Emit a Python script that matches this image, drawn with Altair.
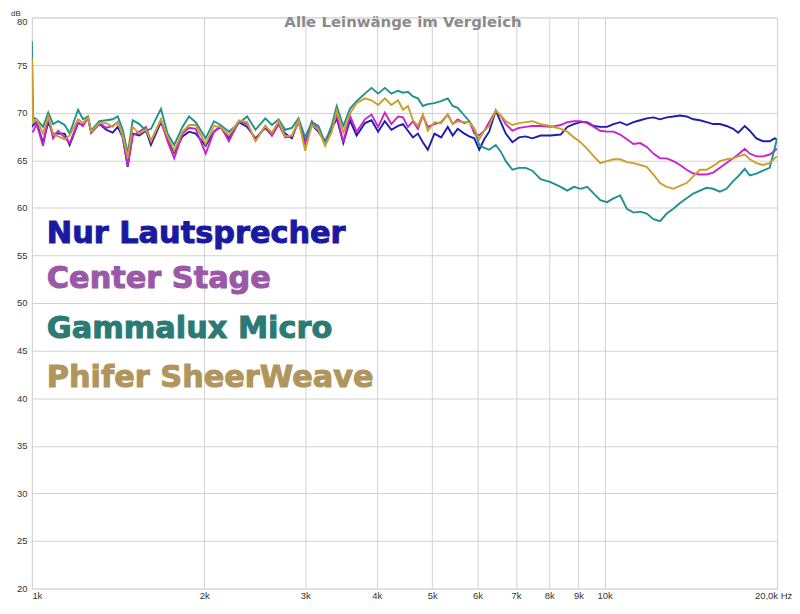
import altair as alt
import pandas as pd

FREQ = [1000, 1005, 1019, 1046, 1068, 1089, 1111, 1141, 1164,
        1204, 1228, 1253, 1269, 1312, 1348, 1384, 1412,
        1441, 1470, 1500, 1540, 1582, 1614, 1680, 1725,
        1772, 1832, 1881, 1932, 2011, 2079, 2135, 2208,
        2298, 2376, 2457, 2556, 2625, 2696, 2769, 2844,
        2921, 3000, 3082, 3165, 3251, 3339, 3406, 3497,
        3592, 3689, 3814, 3917, 4023, 4132, 4243, 4358,
        4445, 4535, 4627, 4720, 4815, 4912,
        5045, 5182, 5322, 5429, 5539, 5689,
        5804, 5921, 6040, 6162, 6286, 6456,
        6587, 6720, 6901, 7088, 7280, 7477,
        7730, 8047, 8378, 8604, 8837, 9076,
        9322, 9574, 9827, 10092, 10365, 10645,
        10933, 11229, 11533, 11845, 12166, 12495,
        12834, 13181, 13538, 13904, 14281, 14667,
        15064, 15472, 15891, 16320, 16762, 17101,
        17564, 17919, 18404, 18902, 19414, 19800,
        20000]

NUR = [68.5, 68.7, 69.0, 66.8, 69.0, 67.8, 67.8, 67.8, 66.6,
       68.9, 68.7, 69.5, 67.9, 68.8, 68.2, 67.9, 68.5,
       67.4, 64.3, 67.8, 67.6, 68.1, 66.6, 69.0, 67.3,
       65.8, 67.5, 68.0, 67.8, 66.5, 68.0, 68.5, 67.3,
       69.0, 68.5, 67.3, 68.4, 67.6, 68.8, 67.8, 67.3,
       69.2, 66.9, 68.7, 68.0, 66.9, 68.3, 69.4, 66.8,
       69.2, 67.6, 68.9, 69.2, 68.0, 69.1, 68.2, 68.6,
       68.8, 68.1, 67.4, 67.8, 66.9, 66.1,
       67.8, 67.4, 68.5, 67.6, 68.3, 67.8,
       67.5, 67.3, 66.1, 67.2, 68.0, 70.2,
       69.0, 67.8, 66.9, 67.4, 67.5, 67.3,
       67.6, 67.6, 67.7, 68.5, 68.8, 69.0,
       69.0, 68.6, 68.5, 68.5, 68.8, 69.0,
       68.7, 69.0, 69.2, 69.4, 69.5, 69.3,
       69.5, 69.6, 69.7, 69.6, 69.3, 69.2,
       69.0, 68.8, 68.8, 68.6, 68.3, 67.9,
       68.6, 68.1, 67.3, 67.0, 67.0, 67.3,
       67.2]

CENTER = [68.0, 68.0, 68.8, 66.5, 69.5, 67.3, 68.1, 67.4, 66.8,
          69.0, 68.6, 69.5, 67.9, 68.9, 68.4, 68.6, 69.0,
          67.4, 64.4, 67.6, 68.0, 68.5, 67.0, 69.2, 67.0,
          65.2, 67.8, 68.4, 68.3, 65.7, 68.0, 68.6, 67.0,
          69.1, 68.8, 67.1, 68.6, 67.6, 68.8, 67.4, 67.5,
          69.0, 66.7, 69.1, 68.2, 67.0, 68.5, 69.7, 66.9,
          69.7, 68.0, 69.3, 69.8, 68.5, 70.0, 68.8, 69.6,
          69.5, 68.5, 69.1, 68.3, 69.7, 68.5,
          68.8, 69.0, 69.8, 68.8, 69.3, 68.9,
          69.1, 67.8, 67.6, 68.1, 69.0, 70.2,
          69.7, 68.8, 68.1, 68.4, 68.5, 68.6,
          68.6, 68.5, 68.7, 69.0, 69.1, 69.1,
          68.9, 68.5, 68.1, 68.0, 68.0, 67.7,
          67.2, 66.7, 66.8, 66.4, 65.7, 65.2,
          65.2, 64.9, 64.5, 64.0, 63.6, 63.5,
          63.5, 63.7, 64.2, 64.7, 65.2, 65.6,
          66.2, 65.7, 65.4, 65.4, 65.6, 66.0,
          66.2]

GAMMA = [77.5, 69.5, 69.3, 68.5, 70.0, 68.8, 69.1, 68.7, 67.8,
         70.3, 69.3, 69.6, 68.1, 69.1, 69.2, 69.3, 69.6,
         68.2, 65.7, 69.2, 68.8, 68.1, 68.3, 70.4, 67.8,
         66.6, 68.5, 69.6, 69.0, 67.3, 69.1, 68.7, 68.0,
         68.9, 69.6, 68.2, 69.4, 68.7, 69.3, 68.2, 68.4,
         69.4, 67.4, 69.0, 68.6, 66.8, 68.7, 70.7, 68.6,
         70.4, 71.2, 72.0, 72.6, 72.0, 72.6, 72.0, 72.3,
         72.1, 72.2, 71.7, 71.5, 70.7, 70.9,
         71.0, 71.2, 71.5, 70.7, 70.5, 69.7,
         69.1, 68.3, 66.6, 66.3, 66.1, 66.6,
         65.9, 64.9, 64.0, 64.2, 64.2, 63.9,
         63.0, 62.7, 62.2, 61.8, 62.2, 62.0,
         62.2, 61.5, 60.8, 60.6, 61.0, 61.3,
         59.9, 59.5, 59.6, 59.4, 58.8, 58.6,
         59.4, 59.9, 60.5, 61.0, 61.5, 61.8,
         62.1, 62.0, 61.7, 62.0, 62.8, 63.3,
         64.1, 63.4, 63.6, 63.9, 64.2, 66.2,
         67.3]

PHIFER = [75.8, 69.0, 69.3, 67.8, 69.6, 67.8, 67.5, 67.2, 67.6,
          69.3, 68.9, 69.5, 68.0, 68.9, 68.9, 68.5, 69.0,
          67.6, 65.3, 68.5, 67.8, 68.2, 67.0, 69.3, 67.5,
          66.0, 68.0, 68.7, 68.7, 66.7, 68.6, 68.5, 67.6,
          69.2, 69.0, 67.0, 68.6, 67.9, 69.1, 67.5, 67.6,
          69.2, 66.0, 68.7, 68.2, 66.5, 68.0, 70.2, 67.9,
          69.9, 71.0, 71.5, 71.3, 70.8, 71.5, 70.8, 71.3,
          70.3, 70.7, 69.2, 68.6, 69.8, 68.1,
          69.0, 68.9, 69.8, 68.8, 69.1, 69.0,
          69.0, 68.3, 67.2, 68.1, 68.6, 70.2,
          69.7, 69.1, 68.7, 68.9, 69.0, 69.1,
          68.8, 68.6, 68.3, 68.0, 67.4, 66.9,
          66.2, 65.4, 64.7, 64.9, 65.1, 65.1,
          64.8, 64.7, 64.5, 64.3, 63.5, 62.6,
          62.2, 62.0, 62.3, 62.6, 63.3, 64.0,
          64.0, 64.4, 64.9, 65.1, 65.2, 65.4,
          65.6, 65.1, 64.7, 64.5, 64.7, 65.2,
          65.4]

SERIES = ["Nur Lautsprecher", "Center Stage", "Gammalux Micro", "Phifer SheerWeave"]
LINE_COLORS = ["#1c1cb2", "#cc22cc", "#1f9090", "#c9a02a"]
TEXT_COLORS = ["#1a1aa0", "#9c58a8", "#2b7a73", "#b0955c"]
X_TICKS = [1000, 2000, 3000, 4000, 5000, 6000, 7000, 8000, 9000, 10000, 20000]
Y_TICKS = [20, 25, 30, 35, 40, 45, 50, 55, 60, 65, 70, 75, 80]
TITLE = "Alle Leinwänge im Vergleich"

rows = []
for name, vals in zip(SERIES, [NUR, CENTER, GAMMA, PHIFER]):
    assert len(vals) == len(FREQ), (name, len(vals), len(FREQ))
    for f, v in zip(FREQ, vals):
        rows.append({"f": f, "db": v, "s": name})
df = pd.DataFrame(rows)

W, H = 749, 574

x = alt.X(
    "f:Q",
    scale=alt.Scale(type="log", domain=[1000, 20000], nice=False),
    axis=alt.Axis(
        values=X_TICKS,
        labelExpr="datum.value >= 20000 ? '20,0k Hz' : (datum.value / 1000) + 'k'",
        grid=True, gridColor="#d2d2d2", gridWidth=1,
        ticks=False, domain=False, title=None,
        labelAlign=alt.condition("datum.value <= 1000", alt.value("left"), alt.value("center")),
        labelOffset=alt.condition("datum.value >= 20000", alt.value(-4), alt.value(0)),
        labelFlush=False, labelOverlap=False,
        labelFontSize=9.5, labelColor="#333333", labelPadding=2,
        labelFont="Liberation Sans",
    ),
)
y = alt.Y(
    "db:Q",
    scale=alt.Scale(domain=[20, 80], nice=False, zero=False),
    axis=alt.Axis(
        values=Y_TICKS, grid=True, gridColor="#d2d2d2", gridWidth=1,
        ticks=False, domain=False, title=None,
        labelFontSize=9.5, labelColor="#333333", labelPadding=5,
        labelFont="Liberation Sans",
        labelOffset=alt.condition("datum.value >= 80", alt.value(4), alt.value(0)),
    ),
)

lines = alt.Chart(df).mark_line(strokeWidth=1.9, clip=True).encode(
    x=x, y=y,
    color=alt.Color("s:N", scale=alt.Scale(domain=SERIES, range=LINE_COLORS), legend=None),
)

title_df = pd.DataFrame({"t": [TITLE]})
title = alt.Chart(title_df).mark_text(
    fontSize=15, fontWeight="bold", color="#8a8a8a", font="DejaVu Sans",
    align="center", baseline="middle",
).encode(text="t:N", x=alt.value(373), y=alt.value(5))

db_df = pd.DataFrame({"t": ["dB"]})
dblabel = alt.Chart(db_df).mark_text(
    fontSize=8, color="#333333", font="Liberation Sans", align="left", baseline="top",
).encode(text="t:N", x=alt.value(-21), y=alt.value(-7.5))

legend_layers = []
baselines = [227, 272, 322, 371]
for name, col, yb in zip(SERIES, TEXT_COLORS, baselines):
    ldf = pd.DataFrame({"t": [name]})
    legend_layers.append(
        alt.Chart(ldf).mark_text(
            fontSize=30.5, fontWeight="bold", font="DejaVu Sans", color=col,
            stroke=col, strokeWidth=1.0, align="left", baseline="alphabetic",
        ).encode(text="t:N", x=alt.value(15), y=alt.value(yb))
    )

chart = alt.layer(lines, title, dblabel, *legend_layers).properties(
    width=W, height=H,
    padding={"left": 24, "top": 8, "right": 15, "bottom": 10},
    autosize=alt.AutoSizeParams(type="none"),
).configure_view(
    stroke="#a8a8a8", strokeWidth=3,
).configure(background="white")

chart.save("out.html", embed_options={"renderer": "svg", "actions": False})
